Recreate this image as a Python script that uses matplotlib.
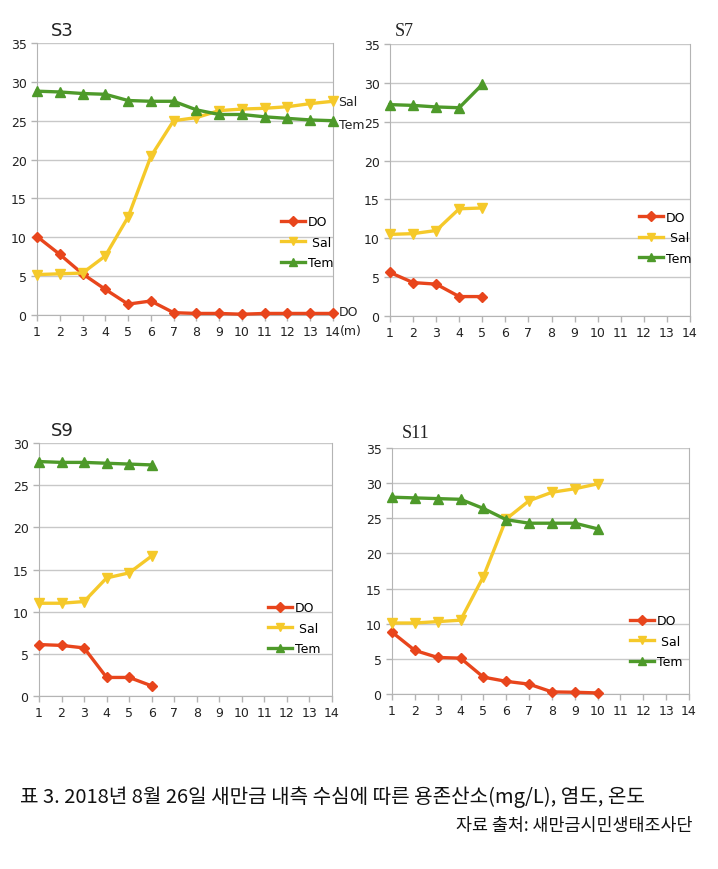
import matplotlib
matplotlib.use("Agg")
import matplotlib.pyplot as plt

# depth (m)
depth_s3 = list(range(1, 15))
do_s3 = [10.1, 7.8, 5.3, 3.3, 1.4, 1.8, 0.3, 0.2, 0.2, 0.1, 0.2, 0.2, 0.2, 0.2]
sal_s3 = [5.2, 5.3, 5.4, 7.6, 12.6, 20.4, 25.0, 25.4, 26.3, 26.5, 26.6, 26.8, 27.2, 27.5]
tem_s3 = [28.8, 28.7, 28.5, 28.4, 27.6, 27.5, 27.5, 26.4, 25.8, 25.8, 25.5, 25.3, 25.1, 25.0]

depth_s7 = [1, 2, 3, 4, 5]
do_s7 = [5.6, 4.3, 4.1, 2.5, 2.5]
sal_s7 = [10.5, 10.6, 11.0, 13.8, 13.9]
tem_s7 = [27.2, 27.1, 26.9, 26.8, 29.8]

depth_s9 = [1, 2, 3, 4, 5, 6]
do_s9 = [6.1, 6.0, 5.7, 2.2, 2.2, 1.2]
sal_s9 = [11.0, 11.0, 11.2, 14.0, 14.6, 16.6]
tem_s9 = [27.8, 27.7, 27.7, 27.6, 27.5, 27.4]

depth_s11 = list(range(1, 11))
do_s11 = [8.8, 6.2, 5.2, 5.1, 2.4, 1.8, 1.4, 0.3, 0.25, 0.15]
sal_s11 = [10.1, 10.1, 10.3, 10.5, 16.7, 24.9, 27.5, 28.7, 29.2, 29.9]
tem_s11 = [28.0, 27.9, 27.8, 27.7, 26.4, 24.8, 24.3, 24.3, 24.3, 23.5]

labels = ["DO", " Sal", "Tem"]
colors = ["#e8451c", "#f5c92a", "#4e9a2a"]
markers = ["D", "v", "^"]

caption = "표 3. 2018년 8월 26일 새만금 내측 수심에 따른 용존산소(mg/L), 염도, 온도"
source = "자료 출처: 새만금시민생태조사단"

W, H = 718, 870
tick_font = ["Liberation Sans Narrow", "DejaVu Sans"]


def make_panel(fig, rect, title, title_xy, title_family, depth, series, ymax,
               legend_xy):
    ax = fig.add_axes(rect)
    for vals, lab, col, mk in zip(series, labels, colors, markers):
        ax.plot(depth, vals, color=col, lw=2.4, marker=mk,
                ms=5.5 if mk == "D" else 7, label=lab, clip_on=False, zorder=3)
    ax.set_xlim(1, 14)
    ax.set_ylim(0, ymax)
    ax.set_xticks(range(1, 15))
    ax.set_yticks(range(0, ymax + 1, 5))
    ax.grid(axis="y", color="#c8c8c8", lw=1)
    ax.set_axisbelow(True)
    for s in ["left", "bottom", "right"]:
        ax.spines[s].set_color("#b4b4b4")
    ax.spines["top"].set_visible(False)
    ax.tick_params(colors="#b4b4b4", length=4, width=1, labelcolor="#222222",
                   labelsize=9)
    ax.tick_params(axis="x", pad=3)
    for t in ax.get_xticklabels() + ax.get_yticklabels():
        t.set_family(tick_font)
    fig.text(title_xy[0] / W, 1 - title_xy[1] / H, title, fontsize=13,
             family=title_family, ha="center", va="center", color="#222222")
    ax.legend(loc="upper left", bbox_to_anchor=legend_xy, frameon=False,
              borderpad=0, handlelength=1.9, handletextpad=0.25,
              labelspacing=0.6, markerscale=0.85,
              prop={"family": tick_font, "size": 9})
    return ax


fig = plt.figure(figsize=(W / 100, H / 100), dpi=100)

ax3 = make_panel(fig, [37 / W, 1 - 316 / H, 296 / W, 272 / H], "S3", (62, 31),
                 "DejaVu Sans", depth_s3, [do_s3, sal_s3, tem_s3], 35, (0.803, 0.39))
# end labels on S3
for lab, val in [("Sal", sal_s3[-1]), ("Tem", tem_s3[-1] - 0.5), ("DO", do_s3[-1] + 0.3)]:
    ax3.annotate(lab, (14, val), xytext=(4, 0), textcoords="offset points",
                 va="center", ha="left", fontsize=9, family=tick_font, color="#222222")
ax3.annotate("(m)", (14, 0), xytext=(5, -11), textcoords="offset points",
             va="center", ha="left", fontsize=9, family=tick_font, color="#222222",
             annotation_clip=False)

make_panel(fig, [390 / W, 1 - 317 / H, 300 / W, 272 / H], "S7", (404, 32),
           "Liberation Serif", depth_s7, [do_s7, sal_s7, tem_s7], 35, (0.81, 0.41))
make_panel(fig, [39 / W, 1 - 697 / H, 293 / W, 253 / H], "S9", (62, 431),
           "DejaVu Sans", depth_s9, [do_s9, sal_s9, tem_s9], 30, (0.76, 0.40))
make_panel(fig, [392 / W, 1 - 695 / H, 297 / W, 246 / H], "S11", (416, 434),
           "Liberation Serif", depth_s11, [do_s11, sal_s11, tem_s11], 35, (0.78, 0.35))

fig.text(20 / W, 1 - 797 / H, caption, fontsize=14.5, family=["Noto Sans CJK KR", "DejaVu Sans"],
         ha="left", va="center", color="#111111")
fig.text(693 / W, 1 - 826 / H, source, fontsize=12.5, family=["Noto Sans CJK KR", "DejaVu Sans"],
         ha="right", va="center", color="#111111")

fig.savefig("out.png", dpi=100)
